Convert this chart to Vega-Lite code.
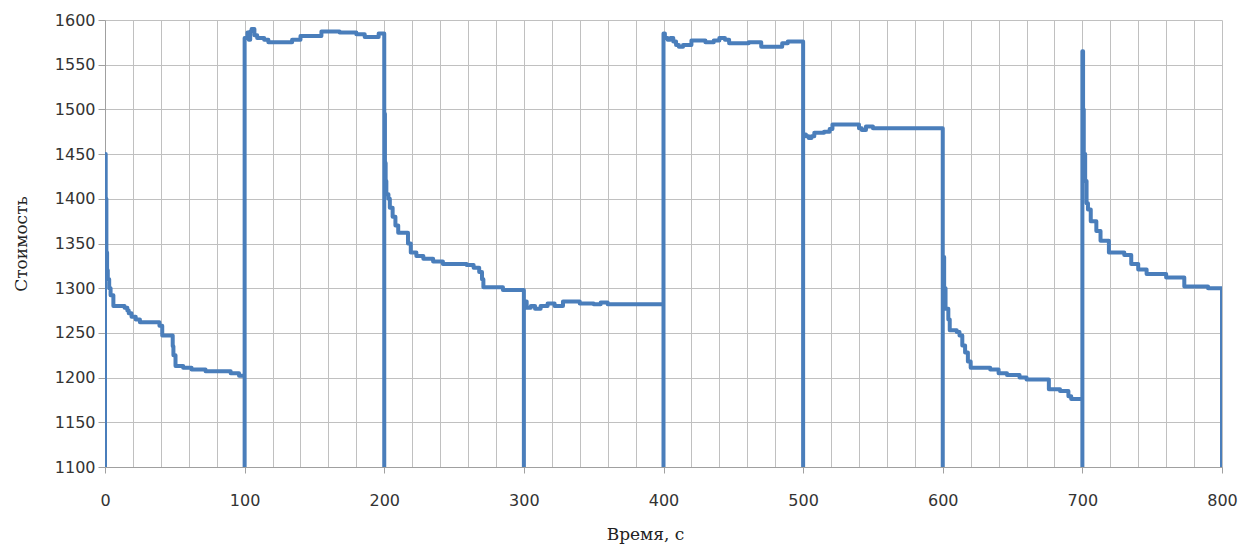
{
  "$schema": "https://vega.github.io/schema/vega-lite/v6.json",
  "width": 1117,
  "height": 447,
  "autosize": "none",
  "padding": {"left": 105, "top": 20, "right": 17, "bottom": 77},
  "background": "white",
  "config": {"view": {"stroke": null}},
  "data": {"values": [
    {"n":1,"t":0,"c":1100},{"n":2,"t":0,"c":1450},{"n":3,"t":0.5,"c":1400},{"n":4,"t":1,"c":1340},{"n":5,"t":1.5,"c":1320},{"n":6,"t":2,"c":1310},{"n":7,"t":3,"c":1300},{"n":8,"t":4,"c":1292},{"n":9,"t":6,"c":1280},{"n":10,"t":14,"c":1278},{"n":11,"t":16,"c":1275},{"n":12,"t":17,"c":1272},{"n":13,"t":19,"c":1268},{"n":14,"t":22,"c":1265},{"n":15,"t":25,"c":1262},{"n":16,"t":39,"c":1258},{"n":17,"t":41,"c":1247},{"n":18,"t":48.5,"c":1235},{"n":19,"t":49,"c":1225},{"n":20,"t":50.5,"c":1213},{"n":21,"t":56,"c":1211},{"n":22,"t":62,"c":1209},{"n":23,"t":72,"c":1207},{"n":24,"t":90,"c":1205},{"n":25,"t":96,"c":1202},{"n":26,"t":100,"c":1100},
    {"n":27,"t":100,"c":1580},{"n":28,"t":102,"c":1586},{"n":29,"t":103,"c":1578},{"n":30,"t":104,"c":1587},{"n":31,"t":105,"c":1590},{"n":32,"t":107,"c":1583},{"n":33,"t":109,"c":1580},{"n":34,"t":114,"c":1578},{"n":35,"t":117,"c":1575},{"n":36,"t":134,"c":1578},{"n":37,"t":140,"c":1582},{"n":38,"t":155,"c":1587},{"n":39,"t":168,"c":1586},{"n":40,"t":180,"c":1584},{"n":41,"t":186,"c":1581},{"n":42,"t":196,"c":1585},{"n":43,"t":200,"c":1100},
    {"n":44,"t":200,"c":1495},{"n":45,"t":200.5,"c":1440},{"n":46,"t":201,"c":1420},{"n":47,"t":201.5,"c":1405},{"n":48,"t":203,"c":1400},{"n":49,"t":204,"c":1390},{"n":50,"t":206,"c":1380},{"n":51,"t":208,"c":1370},{"n":52,"t":210,"c":1362},{"n":53,"t":217,"c":1350},{"n":54,"t":219,"c":1340},{"n":55,"t":223,"c":1336},{"n":56,"t":228,"c":1333},{"n":57,"t":235,"c":1330},{"n":58,"t":242,"c":1327},{"n":59,"t":259,"c":1326},{"n":60,"t":264,"c":1323},{"n":61,"t":268,"c":1318},{"n":62,"t":270,"c":1310},{"n":63,"t":271,"c":1301},{"n":64,"t":285,"c":1298},{"n":65,"t":300,"c":1100},
    {"n":66,"t":300,"c":1285},{"n":67,"t":302,"c":1278},{"n":68,"t":305,"c":1280},{"n":69,"t":308,"c":1277},{"n":70,"t":312,"c":1280},{"n":71,"t":317,"c":1283},{"n":72,"t":322,"c":1280},{"n":73,"t":328,"c":1285},{"n":74,"t":340,"c":1283},{"n":75,"t":350,"c":1282},{"n":76,"t":355,"c":1284},{"n":77,"t":360,"c":1282},{"n":78,"t":400,"c":1100},
    {"n":79,"t":400,"c":1585},{"n":80,"t":401,"c":1580},{"n":81,"t":403,"c":1578},{"n":82,"t":405,"c":1580},{"n":83,"t":407,"c":1576},{"n":84,"t":409,"c":1572},{"n":85,"t":411,"c":1570},{"n":86,"t":414,"c":1572},{"n":87,"t":420,"c":1577},{"n":88,"t":430,"c":1575},{"n":89,"t":436,"c":1577},{"n":90,"t":440,"c":1580},{"n":91,"t":444,"c":1578},{"n":92,"t":447,"c":1574},{"n":93,"t":461,"c":1575},{"n":94,"t":470,"c":1570},{"n":95,"t":485,"c":1574},{"n":96,"t":489,"c":1576},{"n":97,"t":500,"c":1100},
    {"n":98,"t":500,"c":1472},{"n":99,"t":502,"c":1470},{"n":100,"t":504,"c":1468},{"n":101,"t":506,"c":1470},{"n":102,"t":508,"c":1474},{"n":103,"t":515,"c":1475},{"n":104,"t":519,"c":1478},{"n":105,"t":521,"c":1483},{"n":106,"t":540,"c":1479},{"n":107,"t":542,"c":1477},{"n":108,"t":545,"c":1481},{"n":109,"t":550,"c":1479},{"n":110,"t":600,"c":1100},
    {"n":111,"t":600,"c":1335},{"n":112,"t":601,"c":1300},{"n":113,"t":602,"c":1277},{"n":114,"t":604,"c":1265},{"n":115,"t":605,"c":1253},{"n":116,"t":610,"c":1251},{"n":117,"t":612,"c":1247},{"n":118,"t":614,"c":1236},{"n":119,"t":616,"c":1228},{"n":120,"t":618,"c":1218},{"n":121,"t":620,"c":1211},{"n":122,"t":634,"c":1209},{"n":123,"t":640,"c":1205},{"n":124,"t":646,"c":1203},{"n":125,"t":655,"c":1200},{"n":126,"t":660,"c":1198},{"n":127,"t":676,"c":1187},{"n":128,"t":684,"c":1185},{"n":129,"t":690,"c":1179},{"n":130,"t":692,"c":1176},{"n":131,"t":700,"c":1100},
    {"n":132,"t":700,"c":1565},{"n":133,"t":700.5,"c":1500},{"n":134,"t":701,"c":1450},{"n":135,"t":702,"c":1420},{"n":136,"t":703,"c":1395},{"n":137,"t":704,"c":1388},{"n":138,"t":706,"c":1375},{"n":139,"t":710,"c":1364},{"n":140,"t":713,"c":1353},{"n":141,"t":719,"c":1340},{"n":142,"t":730,"c":1337},{"n":143,"t":735,"c":1327},{"n":144,"t":740,"c":1321},{"n":145,"t":746,"c":1316},{"n":146,"t":760,"c":1312},{"n":147,"t":773,"c":1302},{"n":148,"t":790,"c":1300},{"n":149,"t":800,"c":1100}
  ]},
  "mark": {"type": "line", "interpolate": "step-after", "color": "#4a7ebb", "strokeWidth": 4, "strokeJoin": "round", "clip": true},
  "encoding": {
    "order": {"field": "n", "type": "quantitative"},
    "x": {
      "field": "t", "type": "quantitative",
      "scale": {"domain": [0, 800], "nice": false, "zero": false},
      "axis": {
        "title": "Время, с",
        "values": [0,20,40,60,80,100,120,140,160,180,200,220,240,260,280,300,320,340,360,380,400,420,440,460,480,500,520,540,560,580,600,620,640,660,680,700,720,740,760,780,800],
        "labelExpr": "datum.value % 100 === 0 ? datum.label : ''",
        "format": "d",
        "labelOverlap": false,
        "labelFlush": false,
        "grid": true,
        "gridColor": "#c0c0c0",
        "gridWidth": 1,
        "domainColor": "#a0a0a0",
        "tickColor": "#a0a0a0",
        "tickSize": 6,
        "tickOpacity": {"condition": {"test": "datum.value % 100 === 0", "value": 1}, "value": 0},
        "labelFont": "DejaVu Sans",
        "labelFontSize": 16,
        "labelColor": "#333333",
        "labelPadding": 19,
        "titleFont": "DejaVu Serif",
        "titleFontSize": 17,
        "titleFontWeight": "normal",
        "titleColor": "#222222",
        "titlePadding": 18,
        "titleX": 540
      }
    },
    "y": {
      "field": "c", "type": "quantitative",
      "scale": {"domain": [1100, 1600], "nice": false, "zero": false},
      "axis": {
        "title": "Стоимость",
        "format": "d",
        "values": [1100,1150,1200,1250,1300,1350,1400,1450,1500,1550,1600],
        "grid": true,
        "gridColor": "#c0c0c0",
        "gridWidth": 1,
        "domainColor": "#a0a0a0",
        "tickColor": "#a0a0a0",
        "tickSize": 7,
        "labelFont": "DejaVu Sans",
        "labelFontSize": 16,
        "labelColor": "#333333",
        "labelPadding": 3,
        "titleFont": "DejaVu Serif",
        "titleFontSize": 17,
        "titleFontWeight": "normal",
        "titleColor": "#222222",
        "titlePadding": 24
      }
    }
  }
}
